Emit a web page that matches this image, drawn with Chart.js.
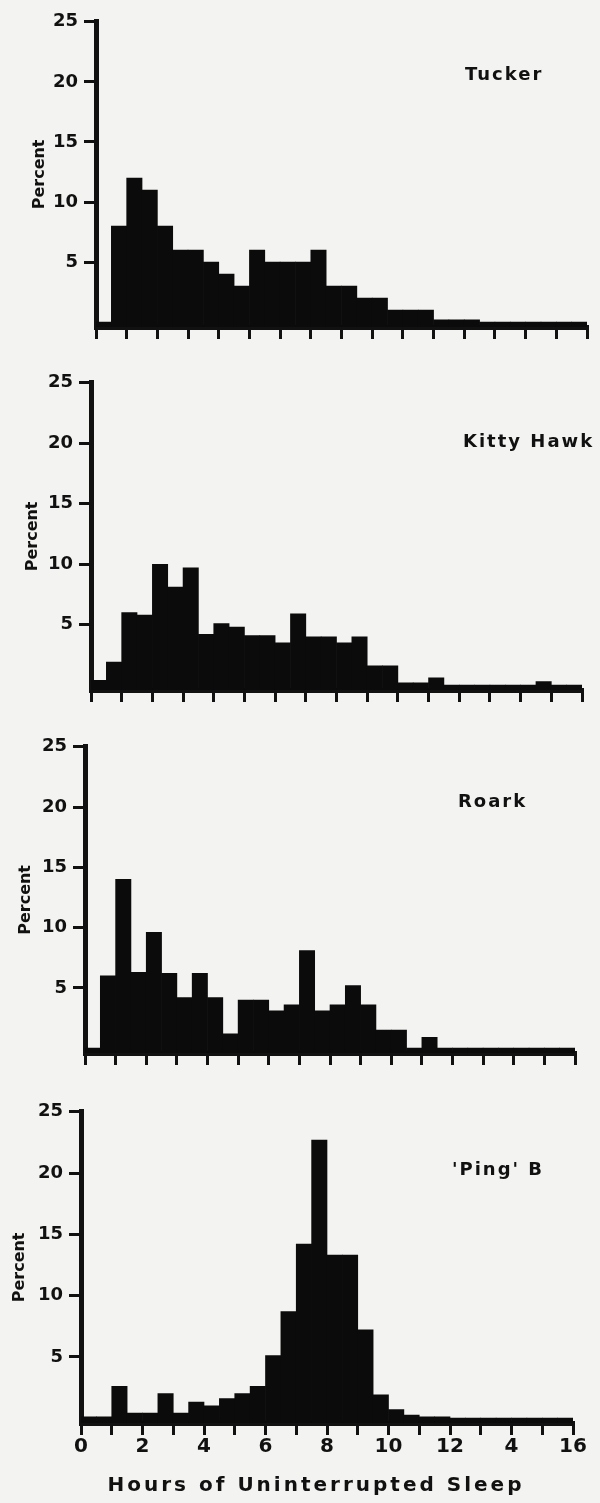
<!doctype html>
<html lang="en">
<head>
<meta charset="utf-8">
<title>Hours of Uninterrupted Sleep</title>
<script src="https://cdn.jsdelivr.net/npm/chart.js"></script>
<style>
  body { margin: 0; background: #f3f3f1; }
  #page { position: relative; width: 600px; height: 1503px; overflow: hidden; }
  .panel { position: absolute; left: 0; width: 600px; }
</style>
</head>
<body>
<div id="page"></div>
<script>
// half-hour bins, 0 to 16 hours
const binStart = [0, 0.5, 1, 1.5, 2, 2.5, 3, 3.5, 4, 4.5, 5, 5.5, 6, 6.5, 7, 7.5,
                  8, 8.5, 9, 9.5, 10, 10.5, 11, 11.5, 12, 12.5, 13, 13.5, 14, 14.5, 15, 15.5];
const shipNames = ['Tucker', 'Kitty Hawk', 'Roark', "'Ping' B"];

const tucker    = [0, 8, 12, 11, 8, 6, 6, 5, 4, 3, 6, 5, 5, 5, 6, 3,
                   3, 2, 2, 1, 1, 1, 0.2, 0.2, 0.2, 0, 0, 0, 0, 0, 0, 0];
const kittyHawk = [0.4, 1.9, 6, 5.8, 10, 8.1, 9.7, 4.2, 5.1, 4.8, 4.1, 4.1, 3.5, 5.9, 4, 4,
                   3.5, 4, 1.6, 1.6, 0.2, 0.2, 0.6, 0, 0, 0, 0, 0, 0, 0.3, 0, 0];
const roark     = [0, 6, 14, 6.3, 9.6, 6.2, 4.2, 6.2, 4.2, 1.2, 4, 4, 3.1, 3.6, 8.1, 3.1,
                   3.6, 5.2, 3.6, 1.5, 1.5, 0, 0.9, 0, 0, 0, 0, 0, 0, 0, 0, 0];
const pingB     = [0.1, 0.1, 2.6, 0.4, 0.4, 2, 0.4, 1.3, 1, 1.6, 2, 2.6, 5.1, 8.7, 14.2, 22.7,
                   13.3, 13.3, 7.2, 1.9, 0.7, 0.25, 0.1, 0.1, 0, 0, 0, 0, 0, 0, 0, 0];

const yTicks = [5, 10, 15, 20, 25];
const xTicks = [0, 1, 2, 3, 4, 5, 6, 7, 8, 9, 10, 11, 12, 13, 14, 15, 16];
const xTickLabels = ['0', '2', '4', '6', '8', '10', '12', '4', '16'];
const yTitle = 'Percent';
const xTitle = 'Hours of Uninterrupted Sleep';

const series = [tucker, kittyHawk, roark, pingB];

// page position of each plot box: x of 0h / 16h, y of 25% / axis line
const boxes = [
  { left: 96, right: 587, top: 20,   bottom: 327,  nameX: 465, nameY: 75,   titleX: 40 },
  { left: 91, right: 582, top: 381,  bottom: 690,  nameX: 463, nameY: 442,  titleX: 33 },
  { left: 85, right: 575, top: 745,  bottom: 1053, nameX: 458, nameY: 802,  titleX: 26 },
  { left: 81, right: 573, top: 1110, bottom: 1423, nameX: 452, nameY: 1170, titleX: 20 }
];

Chart.defaults.font.family = '"DejaVu Sans", sans-serif';
Chart.defaults.color = '#111';

const panelText = {
  id: 'panelText',
  afterDraw(chart, args, opts) {
    const ctx = chart.ctx;
    ctx.save();
    ctx.fillStyle = '#111';
    ctx.textBaseline = 'middle';
    ctx.textAlign = 'left';
    ctx.font = 'bold 18px "DejaVu Sans"';
    ctx.letterSpacing = '2px';
    ctx.fillText(opts.name, opts.nameX, opts.nameY);
    if (opts.xTitle) {
      ctx.font = 'bold 20px "DejaVu Sans"';
      ctx.letterSpacing = '3px';
      ctx.textAlign = 'center';
      ctx.fillText(opts.xTitle, opts.xTitleX, opts.xTitleY);
    }
    ctx.restore();
  }
};

const page = document.getElementById('page');

boxes.forEach((b, i) => {
  const last = i === boxes.length - 1;
  const canvasTop = b.top - 15;
  const canvasH = last ? 1503 - canvasTop : b.bottom + 20 - canvasTop;

  const wrap = document.createElement('div');
  wrap.className = 'panel';
  wrap.style.top = canvasTop + 'px';
  const cv = document.createElement('canvas');
  cv.width = 600;
  cv.height = canvasH;
  wrap.appendChild(cv);
  page.appendChild(wrap);

  new Chart(cv, {
    type: 'bar',
    data: {
      datasets: [{
        data: series[i].map((v, k) => ({ x: binStart[k] + 0.25, y: v })),
        backgroundColor: '#0b0b0b',
        borderWidth: 0,
        base: -0.4,
        barPercentage: 1,
        categoryPercentage: 1
      }]
    },
    options: {
      responsive: false,
      animation: false,
      layout: { padding: { left: 0, right: 600 - b.right, top: 15, bottom: 0 } },
      plugins: {
        legend: { display: false },
        tooltip: { enabled: false },
        panelText: {
          name: shipNames[i], nameX: b.nameX, nameY: b.nameY - canvasTop,
          xTitle: last ? xTitle : null, xTitleX: 316, xTitleY: 1486 - canvasTop
        }
      },
      scales: {
        x: {
          type: 'linear',
          min: 0,
          max: 16,
          offset: false,
          afterBuildTicks: s => { s.ticks = xTicks.map(v => ({ value: v })); },
          afterFit: s => { s.height = canvasH - 15 - (b.bottom - b.top); },
          grid: { offset: false, drawOnChartArea: false, drawTicks: true, tickLength: 12, color: '#111', lineWidth: 3 },
          border: { display: true, color: '#111', width: 5 },
          ticks: {
            display: last,
            autoSkip: false,
            maxRotation: 0,
            padding: 0,
            font: { size: 20, weight: 'bold' },
            callback: v => (v % 2 === 0 ? xTickLabels[v / 2] : '')
          }
        },
        y: {
          min: -0.4,
          max: 25,
          afterBuildTicks: s => { s.ticks = yTicks.map(v => ({ value: v })); },
          afterFit: s => { s.width = b.left; },
          grid: { drawOnChartArea: false, drawTicks: true, tickLength: 12, color: '#111', lineWidth: 3 },
          border: { display: true, color: '#111', width: 5 },
          ticks: { padding: 6, font: { size: 18, weight: 'bold' } },
          title: {
            display: true,
            text: yTitle,
            font: { size: 16, weight: 'bold' },
            padding: { top: b.titleX - 9.5, bottom: 0 }
          }
        }
      }
    },
    plugins: [panelText]
  });
});
</script>
</body>
</html>
